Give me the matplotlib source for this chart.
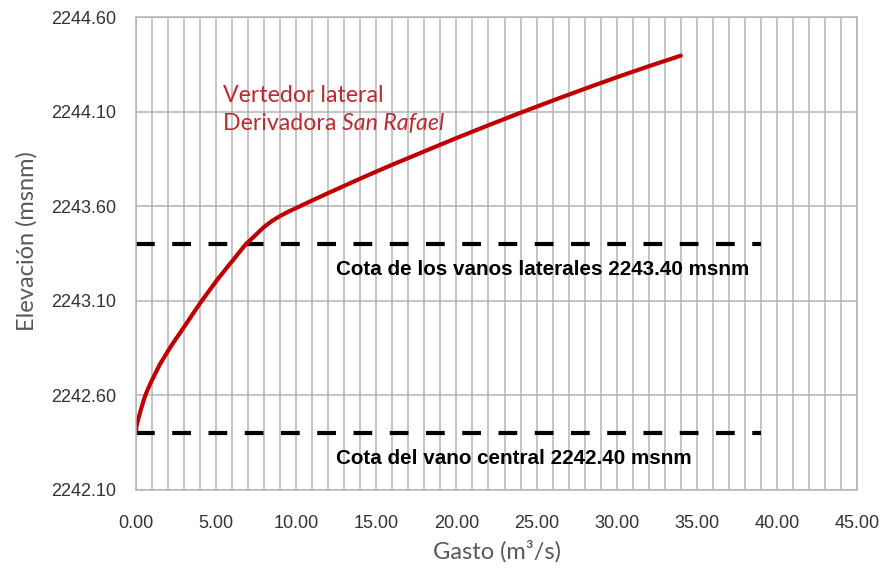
import matplotlib
matplotlib.use("Agg")
import matplotlib.pyplot as plt
from matplotlib.ticker import MultipleLocator, FormatStrFormatter
from matplotlib.transforms import offset_copy

plt.rcParams["font.family"] = ["Liberation Sans", "DejaVu Sans"]

# curva de descarga del vertedor lateral
gasto = [0.000, 0.005, 0.03, 0.15, 0.35, 0.56, 0.75, 0.98,
         1.50, 2.20, 2.95, 3.60, 4.10, 5.05, 5.90, 6.85,
         7.50, 8.00, 8.50, 9.00, 9.50, 10.00, 11.00, 12.10,
         13.20, 14.20, 15.25, 16.30, 17.30, 18.40, 20.00, 22.00,
         24.00, 26.50, 28.50, 30.25, 32.00, 34.00]
elevacion = [2242.400, 2242.415, 2242.437, 2242.478, 2242.538, 2242.595, 2242.635, 2242.678,
             2242.766, 2242.863, 2242.956, 2243.038, 2243.100, 2243.210, 2243.300, 2243.400,
             2243.452, 2243.492, 2243.524, 2243.550, 2243.572, 2243.592, 2243.632, 2243.675,
             2243.717, 2243.755, 2243.794, 2243.832, 2243.867, 2243.906, 2243.962, 2244.030,
             2244.096, 2244.176, 2244.238, 2244.291, 2244.342, 2244.398]

# cotas de referencia
cota_laterales = 2243.40
cota_central = 2242.40
gasto_cotas = [0.0, 39.0]

xticks = [0, 5, 10, 15, 20, 25, 30, 35, 40, 45]
yticks = [2242.10, 2242.60, 2243.10, 2243.60, 2244.10, 2244.60]

GRIS = "#b4b4b4"
ROJO = "#c00000"
ROJO_TXT = "#c0282e"

fig = plt.figure(figsize=(8.83, 5.77), dpi=100)
ax = fig.add_axes([0.154, 0.1508, 0.8166, 0.8189])

ax.set_xlim(0, 45)
ax.set_ylim(2242.10, 2244.60)
ax.set_xticks(xticks)
ax.set_yticks(yticks)
ax.xaxis.set_minor_locator(MultipleLocator(1))
ax.xaxis.set_major_formatter(FormatStrFormatter("%.2f"))
ax.yaxis.set_major_formatter(FormatStrFormatter("%.2f"))

ax.grid(True, which="both", axis="x", color=GRIS, lw=1.1)
ax.grid(True, which="major", axis="y", color=GRIS, lw=1.1)
ax.set_axisbelow(True)
for s in ax.spines.values():
    s.set_color(GRIS)
    s.set_linewidth(1.1)
ax.tick_params(which="both", length=0)
ax.tick_params(axis="y", pad=14, labelsize=13, labelcolor="#333333")
ax.tick_params(axis="x", pad=18, labelsize=13, labelcolor="#333333")

# lineas de cota
for cota in [cota_laterales, cota_central]:
    ax.plot(gasto_cotas, [cota] * 2, color="black", lw=3, dashes=(4.5, 4.2),
            dash_capstyle="butt")

# curva
ax.plot(gasto, elevacion, color=ROJO, lw=3, solid_capstyle="round",
        solid_joinstyle="round")

ax.text(12.5, 2243.265, "Cota de los vanos laterales 2243.40 msnm", fontsize=14.9,
        fontweight="bold", va="center", ha="left")
ax.text(12.5, 2242.265, "Cota del vano central 2242.40 msnm", fontsize=14.9,
        fontweight="bold", va="center", ha="left")

ax.text(5.4, 2244.185, "Vertedor lateral", fontsize=16.7, color=ROJO_TXT,
        family="Lato", va="center", ha="left")
t = ax.text(5.4, 2244.04, "Derivadora ", fontsize=16.7, color=ROJO_TXT,
            family="Lato", va="center", ha="left")
fig.canvas.draw()
ancho = t.get_window_extent().width
ax.text(5.4, 2244.04, "San Rafael", fontsize=16.7, color=ROJO_TXT, family="Lato",
        style="italic", va="center", ha="left",
        transform=offset_copy(ax.transData, fig=fig, x=ancho, y=0, units="dots"))

ax.set_xlabel("Gasto (m³/s)", fontsize=17, color="#595959", family="Lato",
              labelpad=6)
ax.set_ylabel("Elevación (msnm)", fontsize=17, color="#595959", family="Lato")
ax.yaxis.set_label_coords(-0.137, 0.527)

fig.savefig("out.png", dpi=100)
